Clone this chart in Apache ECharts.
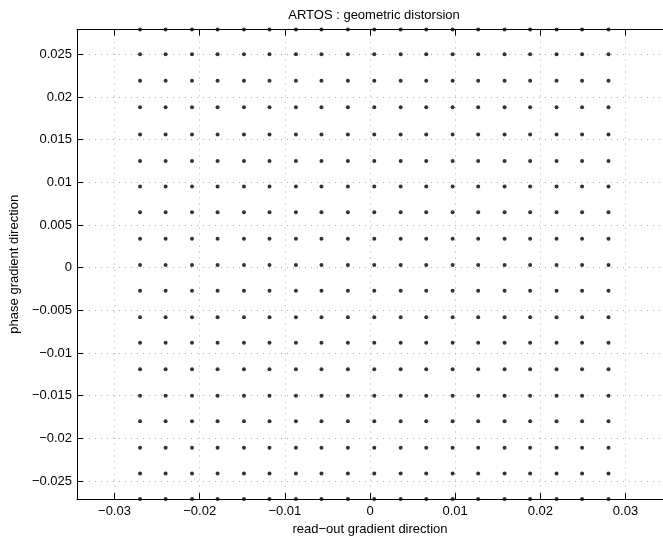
<!DOCTYPE html>
<html>
<head>
<meta charset="utf-8">
<script src="https://cdn.jsdelivr.net/npm/echarts@6/dist/echarts.min.js"></script>
<style>
html,body{margin:0;padding:0;background:#fff;}
#chart{width:663px;height:541px;}
</style>
</head>
<body>
<div id="chart"></div>
<script>
// Column x-positions (read-out direction) of the measured grid points
var xCols = [-0.0270, -0.0240, -0.0209, -0.0179, -0.0148, -0.0118, -0.0087, -0.0057, -0.0026, 0.0005,
             0.0036, 0.0066, 0.0097, 0.0127, 0.0158, 0.0188, 0.0219, 0.0249, 0.0280];
// Row y-positions (phase direction) of the measured grid points
var yRows = [0.0279, 0.0250, 0.0219, 0.0188, 0.0156, 0.0125, 0.0095, 0.0065, 0.0034, 0.0003,
             -0.0027, -0.0058, -0.0088, -0.0119, -0.0150, -0.0180, -0.0211, -0.0241, -0.0271];
// Tick labels
var xTicks = [-0.03, -0.02, -0.01, 0, 0.01, 0.02, 0.03];
var yTicks = [-0.025, -0.02, -0.015, -0.01, -0.005, 0, 0.005, 0.01, 0.015, 0.02, 0.025];

var points = [];
yRows.forEach(function (y) { xCols.forEach(function (x) { points.push([x, y]); }); });

var FONT = 'Liberation Sans, Arial, Helvetica, sans-serif';
function fmt(v) { return String(+v.toFixed(4)).replace('-', '\u2212'); }

var chart = echarts.init(document.getElementById('chart'), null, {renderer: 'canvas'});
var gridLine = {show: true, lineStyle: {color: '#ababab', width: 1, type: [1, 5]}};
chart.setOption({
  animation: false,
  backgroundColor: '#fff',
  title: {
    text: 'ARTOS : geometric distorsion', left: 369, top: 4, textAlign: 'center',
    textStyle: {fontFamily: FONT, fontSize: 13, fontWeight: 'normal', color: '#000'}
  },
  grid: {left: 76, top: 29.5, right: 0, bottom: 42, containLabel: false},
  xAxis: [{
    type: 'value', min: -0.0344, max: 0.0344, position: 'bottom',
    name: 'read\u2212out gradient direction', nameLocation: 'middle', nameGap: 22,
    nameTextStyle: {fontFamily: FONT, fontSize: 13, color: '#000'},
    axisLine: {show: true, onZero: false, lineStyle: {color: '#000', width: 1}},
    axisTick: {show: true, inside: true, length: 6, customValues: xTicks, lineStyle: {color: '#000'}},
    axisLabel: {show: true, customValues: xTicks, margin: 6, formatter: fmt, fontFamily: FONT, fontSize: 13, color: '#000'},
    splitLine: gridLine
  }, {
    type: 'value', min: -0.0344, max: 0.0344, position: 'top',
    axisLine: {show: true, onZero: false, lineStyle: {color: '#000', width: 1}},
    axisTick: {show: true, inside: true, length: 6, customValues: xTicks, lineStyle: {color: '#000'}},
    axisLabel: {show: false},
    splitLine: {show: false}
  }],
  yAxis: [{
    type: 'value', min: -0.0271, max: 0.0279, position: 'left',
    name: 'phase gradient direction', nameLocation: 'middle', nameGap: 47, nameRotate: 90,
    nameTextStyle: {fontFamily: FONT, fontSize: 13, color: '#000'},
    axisLine: {show: true, onZero: false, lineStyle: {color: '#000', width: 1}},
    axisTick: {show: true, inside: true, length: 6, customValues: yTicks, lineStyle: {color: '#000'}},
    axisLabel: {show: true, customValues: yTicks, margin: 5, formatter: fmt, fontFamily: FONT, fontSize: 13, color: '#000'},
    splitLine: gridLine
  }],
  series: [{
    type: 'scatter', data: points, xAxisIndex: 0, yAxisIndex: 0,
    symbol: 'circle', symbolSize: 4, clip: false,
    itemStyle: {color: '#000'}
  }]
});
</script>
</body>
</html>
